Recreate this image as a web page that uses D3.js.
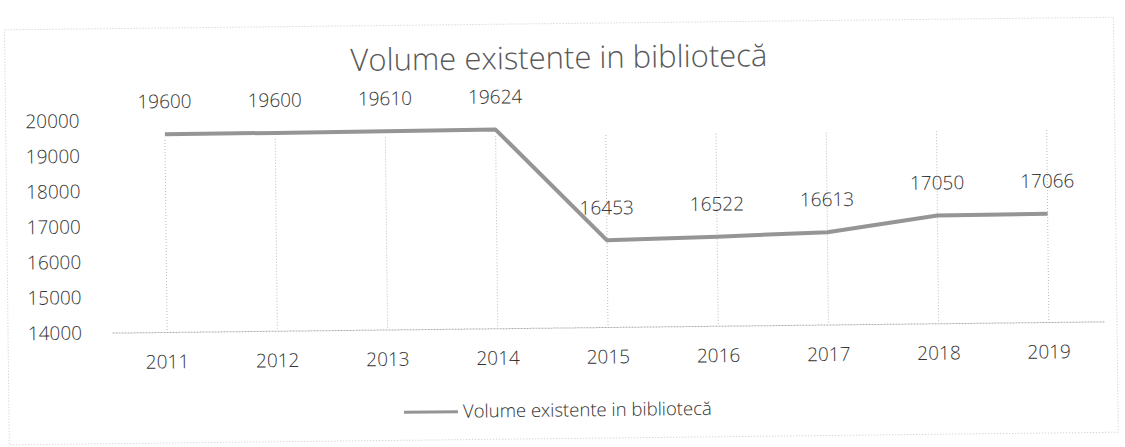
<!DOCTYPE html>
<html>
<head>
<meta charset="utf-8">
<script src="https://cdn.jsdelivr.net/npm/d3@7"></script>
<style>
  body { margin: 0; background: #fff; }
  text { font-family: "Open Sans", "DejaVu Sans", sans-serif; }
</style>
</head>
<body>
<div id="graph"></div>
<script>
// chart data
var years = ["2011", "2012", "2013", "2014", "2015", "2016", "2017", "2018", "2019"];
var volumes = [19600, 19600, 19610, 19624, 16453, 16522, 16613, 17050, 17066];
var yTicks = [14000, 15000, 16000, 17000, 18000, 19000, 20000];
var chartTitle = "Volume existente in bibliotecă";
var seriesName = "Volume existente in bibliotecă";

var width = 1125, height = 447;

var svg = d3.select("#graph").append("svg")
    .attr("width", width)
    .attr("height", height);

// the scan is slightly tilted, so rotate everything a bit
var g = svg.append("g")
    .attr("transform", "rotate(-0.65, 608, 327)");

// outer chart border (dotted, light)
g.append("rect")
    .attr("x", 8).attr("y", 23)
    .attr("width", 1109).attr("height", 415)
    .attr("fill", "none")
    .attr("stroke", "#c8c8c8")
    .attr("stroke-dasharray", "1,2");

var xScale = d3.scaleBand()
    .domain(years)
    .range([112, 1104]);

var yScale = d3.scaleLinear()
    .domain([14000, 20000])
    .range([327, 115]);

function cx(d) { return xScale(d) + xScale.bandwidth() / 2; }

// title
g.append("text")
    .attr("x", 562)
    .attr("y", 68)
    .attr("text-anchor", "middle")
    .style("font-size", "31px")
    .style("font-weight", "300")
    .attr("fill", "#595959")
    .text(chartTitle);

// vertical dotted gridlines at each category
g.append("g").selectAll("line")
    .data(years)
    .enter().append("line")
    .attr("x1", cx).attr("x2", cx)
    .attr("y1", yScale(20000) + 20)
    .attr("y2", yScale(14000))
    .attr("stroke", "#bbb")
    .attr("stroke-dasharray", "1,2");

// y axis labels (no axis line)
var yAxis = g.append("g")
    .attr("transform", "translate(82,0)")
    .call(d3.axisLeft(yScale).tickValues(yTicks).tickSize(0).tickPadding(0).tickFormat(d3.format("d")));
yAxis.select(".domain").remove();
yAxis.selectAll("text")
    .style("font-size", "19px")
    .style("font-weight", "300")
    .style("font-family", "'Open Sans', sans-serif")
    .attr("fill", "#333");

// x axis
var xAxis = g.append("g")
    .attr("transform", "translate(0," + yScale(14000) + ")")
    .call(d3.axisBottom(xScale).tickSize(0).tickPadding(23));
xAxis.select(".domain")
    .attr("stroke", "#aaa")
    .attr("stroke-dasharray", "2,1");
xAxis.selectAll("text")
    .style("font-size", "19px")
    .style("font-weight", "300")
    .style("font-family", "'Open Sans', sans-serif")
    .attr("fill", "#333");

// data
var dataset = years.map(function(y, i) { return {year: y, value: volumes[i]}; });

var line = d3.line()
    .x(function(d) { return cx(d.year); })
    .y(function(d) { return yScale(d.value); });

g.append("path")
    .datum(dataset)
    .attr("fill", "none")
    .attr("stroke", "#959595")
    .attr("stroke-width", 4)
    .attr("stroke-linejoin", "round")
    .attr("d", line);

// data labels
g.selectAll(".lbl")
    .data(dataset)
    .enter().append("text")
    .attr("class", "lbl")
    .attr("x", function(d) { return cx(d.year); })
    .attr("y", function(d) { return yScale(d.value) - 26; })
    .attr("text-anchor", "middle")
    .style("font-size", "19px")
    .style("font-weight", "300")
    .attr("fill", "#333")
    .text(function(d) { return d.value; });

// legend
var legend = g.append("g").attr("transform", "translate(403,410)");
legend.append("line")
    .attr("x1", 0).attr("x2", 54)
    .attr("y1", 0).attr("y2", 0)
    .attr("stroke", "#959595")
    .attr("stroke-width", 3);
legend.append("text")
    .attr("x", 59)
    .attr("y", 6)
    .style("font-size", "18.5px")
    .style("font-weight", "300")
    .attr("fill", "#333")
    .text(seriesName);
</script>
</body>
</html>
